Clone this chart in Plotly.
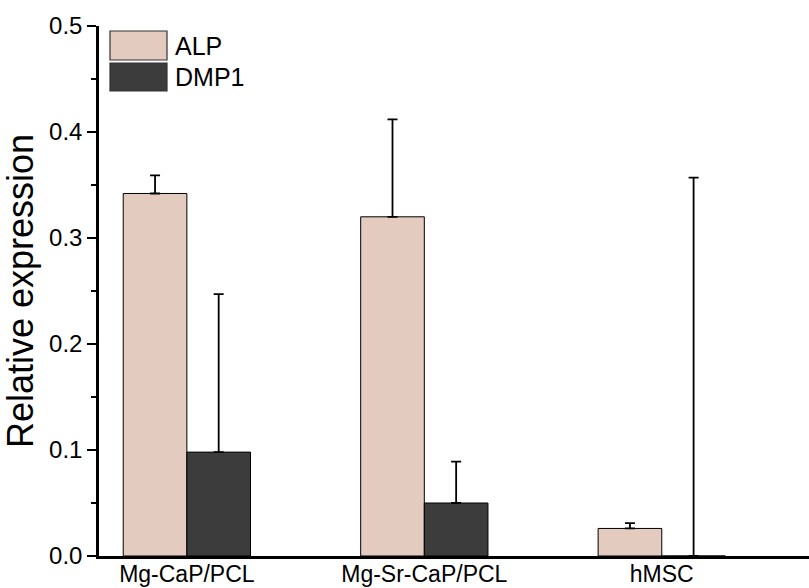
import plotly.graph_objects as go

categories = ["Mg-CaP/PCL", "Mg-Sr-CaP/PCL", "hMSC"]
alp_values = [0.342, 0.320, 0.026]
alp_errors = [0.017, 0.092, 0.005]
dmp1_values = [0.098, 0.050, 0.0]
dmp1_errors = [0.149, 0.039, 0.357]
series_names = ["ALP", "DMP1"]
y_ticks = [0.0, 0.1, 0.2, 0.3, 0.4, 0.5]
y_tick_labels = ["0.0", "0.1", "0.2", "0.3", "0.4", "0.5"]
y_minor_ticks = [0.05, 0.15, 0.25, 0.35, 0.45]

alp_color = "#E3CBC0"
dmp1_color = "#3C3C3C"
font_family = "Liberation Sans, Arial, sans-serif"

fig = go.Figure()
for name, vals, errs, col in [
    (series_names[0], alp_values, alp_errors, alp_color),
    (series_names[1], dmp1_values, dmp1_errors, dmp1_color),
]:
    fig.add_trace(go.Bar(
        x=categories, y=vals, name=name,
        marker=dict(color=col, line=dict(color="black", width=1)),
        error_y=dict(type="data", array=errs, symmetric=False,
                     arrayminus=[0] * len(errs),
                     color="black", thickness=1.8, width=5),
        showlegend=False,
    ))

# custom legend (large boxes as in reference)
legend_items = [(series_names[0], alp_color, 31, 60), (series_names[1], dmp1_color, 63, 91)]
W0, H0 = 710.0, 530.0
for name, col, ytop, ybot in legend_items:
    fig.add_shape(type="rect", xref="paper", yref="paper",
                  x0=(110 - 99) / W0, x1=(167 - 99) / W0,
                  y0=(556 - ybot) / H0, y1=(556 - ytop) / H0,
                  fillcolor=col, line=dict(color="#333333", width=1.2))
    fig.add_annotation(xref="paper", yref="paper",
                       x=(173 - 99) / W0, y=(556 - (ytop + ybot) / 2) / H0,
                       text=name, showarrow=False, xanchor="left", yanchor="middle",
                       font=dict(family=font_family, size=25, color="black"))

fig.update_layout(
    width=809, height=588,
    margin=dict(l=99, r=0, t=26, b=32, autoexpand=False),
    paper_bgcolor="white", plot_bgcolor="white",
    barmode="group", bargap=0.464, bargroupgap=0,
    font=dict(family=font_family, color="black"),
)
fig.update_xaxes(
    range=[-0.37, 2.62], showline=True, linecolor="black", linewidth=3,
    ticks="", showgrid=False, zeroline=False, automargin=False,
    ticklabelstandoff=-5,
    tickfont=dict(family=font_family, size=23, color="black"),
)
fig.update_yaxes(
    range=[0, 0.5], showline=True, linecolor="black", linewidth=2.5,
    tickmode="array", tickvals=y_ticks, ticktext=y_tick_labels, automargin=False,
    ticks="outside", ticklen=9, tickwidth=2, tickcolor="black",
    minor=dict(ticks="outside", ticklen=5, tickwidth=2, tickcolor="black",
               tickmode="array", tickvals=y_minor_ticks, showgrid=False),
    showgrid=False, zeroline=False,
    tickfont=dict(family=font_family, size=24, color="black"),
    title=dict(text="Relative expression", standoff=10,
               font=dict(family=font_family, size=36, color="black")),
)

fig.write_html("out.html")
